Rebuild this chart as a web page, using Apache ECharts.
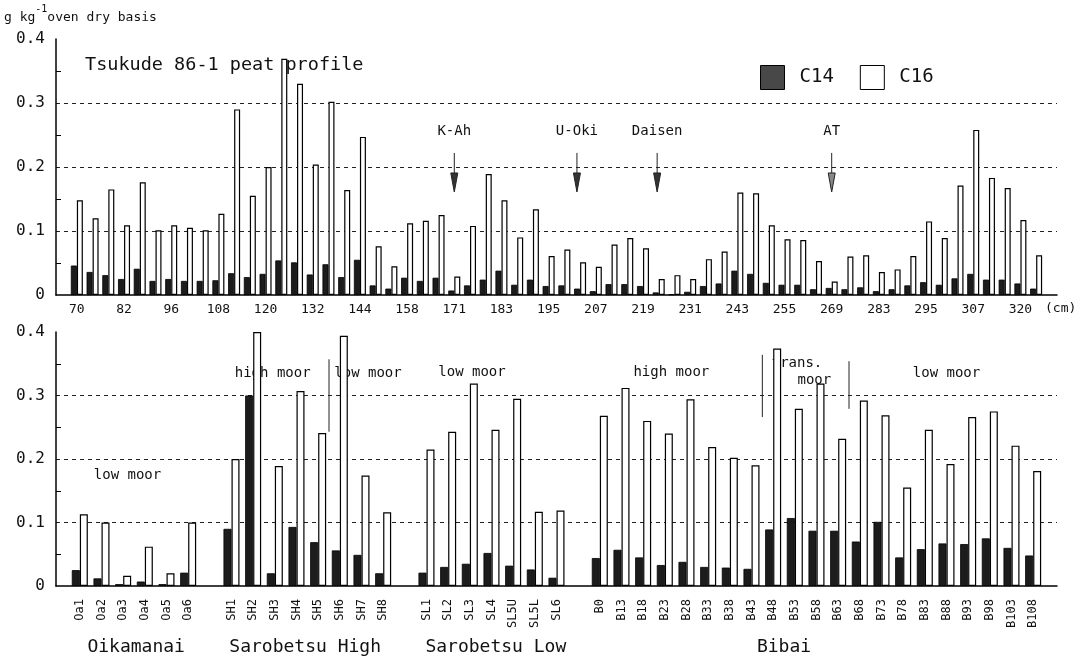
<!DOCTYPE html>
<html>
<head>
<meta charset="utf-8">
<script src="https://cdn.jsdelivr.net/npm/echarts@6/dist/echarts.min.js"></script>
<style>
html, body { margin: 0; background: #fff; }
#main { width: 1079px; height: 662px; }
</style>
</head>
<body>
<div id="main"></div>
<script>
const MONO = '"DejaVu Sans Mono", "Liberation Mono", monospace';

// Tsukude 86-1 peat profile (one tick label every third sample)
const depthTicks = ['70', '82', '96', '108', '120', '132', '144', '158', '171', '183', '195',
  '207', '219', '231', '243', '255', '269', '283', '295', '307', '320'];
const tsukudeC14 = [
  0.046, 0.036, 0.031, 0.025, 0.041, 0.022, 0.025, 0.022, 0.022, 0.023,
  0.034, 0.028, 0.033, 0.054, 0.051, 0.032, 0.048, 0.028, 0.055, 0.015,
  0.010, 0.027, 0.022, 0.027, 0.007, 0.015, 0.024, 0.038, 0.016, 0.024,
  0.014, 0.015, 0.010, 0.006, 0.017, 0.017, 0.014, 0.004, 0.001, 0.005,
  0.014, 0.018, 0.038, 0.033, 0.019, 0.016, 0.016, 0.009, 0.011, 0.009,
  0.012, 0.006, 0.009, 0.015, 0.020, 0.016, 0.026, 0.033, 0.024, 0.024,
  0.018, 0.010];
const tsukudeC16 = [
  0.148, 0.120, 0.165, 0.109, 0.176, 0.101, 0.109, 0.105, 0.101, 0.127,
  0.290, 0.155, 0.200, 0.369, 0.330, 0.204, 0.302, 0.164, 0.247, 0.076,
  0.045, 0.112, 0.116, 0.125, 0.029, 0.108, 0.189, 0.148, 0.090, 0.134,
  0.061, 0.071, 0.051, 0.044, 0.079, 0.089, 0.073, 0.025, 0.031, 0.025,
  0.056, 0.068, 0.160, 0.159, 0.109, 0.087, 0.086, 0.053, 0.021, 0.060,
  0.062, 0.036, 0.040, 0.061, 0.115, 0.089, 0.171, 0.258, 0.183, 0.167,
  0.117, 0.062];

// bottom panel, four sites
const oikamanaiSamples = ['Oa1', 'Oa2', 'Oa3', 'Oa4', 'Oa5', 'Oa6'];
const oikamanaiC14 = [0.025, 0.012, 0.003, 0.007, 0.003, 0.021];
const oikamanaiC16 = [0.113, 0.100, 0.016, 0.062, 0.020, 0.100];

const sarobetsuHighSamples = ['SH1', 'SH2', 'SH3', 'SH4', 'SH5', 'SH6', 'SH7', 'SH8'];
const sarobetsuHighC14 = [0.090, 0.300, 0.020, 0.093, 0.069, 0.056, 0.049, 0.020];
const sarobetsuHighC16 = [0.200, 0.400, 0.189, 0.307, 0.241, 0.394, 0.174, 0.116];

const sarobetsuLowSamples = ['SL1', 'SL2', 'SL3', 'SL4', 'SL5U', 'SL5L', 'SL6'];
const sarobetsuLowC14 = [0.021, 0.030, 0.035, 0.052, 0.032, 0.026, 0.013];
const sarobetsuLowC16 = [0.215, 0.243, 0.319, 0.246, 0.295, 0.117, 0.119];

const bibaiSamples = ['B0', 'B13', 'B18', 'B23', 'B28', 'B33', 'B38', 'B43', 'B48', 'B53', 'B58',
  'B63', 'B68', 'B73', 'B78', 'B83', 'B88', 'B93', 'B98', 'B103', 'B108'];
const bibaiC14 = [0.044, 0.057, 0.045, 0.033, 0.038, 0.030, 0.029, 0.027, 0.089, 0.107, 0.087,
  0.087, 0.070, 0.101, 0.045, 0.058, 0.067, 0.066, 0.075, 0.060, 0.048];
const bibaiC16 = [0.268, 0.312, 0.260, 0.240, 0.294, 0.219, 0.202, 0.190, 0.374, 0.279, 0.319,
  0.232, 0.292, 0.269, 0.155, 0.246, 0.192, 0.266, 0.275, 0.221, 0.181];

const siteNames = ['Oikamanai', 'Sarobetsu High', 'Sarobetsu Low', 'Bibai'];

// top categories: a depth label on every third sample
const topCategories = tsukudeC14.map((v, i) => (i % 3 === 0 ? depthTicks[i / 3] : ''));

// bottom categories with an empty slot between sites
const bottomCategories = [];
const bottomC14 = [];
const bottomC16 = [];
const siteSlots = [];
[[oikamanaiSamples, oikamanaiC14, oikamanaiC16],
 [sarobetsuHighSamples, sarobetsuHighC14, sarobetsuHighC16],
 [sarobetsuLowSamples, sarobetsuLowC14, sarobetsuLowC16],
 [bibaiSamples, bibaiC14, bibaiC16]].forEach(([names, c14, c16], g) => {
  if (g > 0) {
    bottomCategories.push(' '.repeat(g));
    bottomC14.push(null);
    bottomC16.push(null);
  }
  siteSlots.push([bottomCategories.length, bottomCategories.length + names.length - 1]);
  names.forEach((n, i) => {
    bottomCategories.push(n);
    bottomC14.push(c14[i]);
    bottomC16.push(c16[i]);
  });
});

const chart = echarts.init(document.getElementById('main'));

function frameX(gridIndex) {
  return {
    gridIndex, type: 'value', min: 0, max: 1,
    axisLine: { show: true, lineStyle: { color: '#000', width: 1.5 } },
    axisTick: { show: false }, axisLabel: { show: false }, splitLine: { show: false }
  };
}
function frameY(gridIndex) {
  return {
    gridIndex, type: 'value', min: 0, max: 0.4, interval: 0.1,
    axisLine: { show: true, lineStyle: { color: '#000', width: 1.5 } },
    axisTick: { show: false, inside: true },
    minorTick: { show: true, splitNumber: 2, length: 5, lineStyle: { color: '#000', width: 1 } },
    axisLabel: {
      fontFamily: MONO, fontSize: 16, color: '#111', margin: 11,
      formatter: v => (v === 0 ? '0' : v.toFixed(1))
    },
    splitLine: {
      show: true, showMinLine: false, showMaxLine: false,
      lineStyle: { color: '#222', type: [4, 4], width: 1 }
    }
  };
}
function barY(gridIndex) {
  return { gridIndex, type: 'value', min: 0, max: 0.4, show: false, splitLine: { show: false } };
}

const c14Style = { color: '#1c1c1c', borderColor: '#000', borderWidth: 0.8 };
const c16Style = { color: '#fff', borderColor: '#000', borderWidth: 1.2 };

const option = {
  backgroundColor: '#fff',
  animation: false,
  title: {
    text: 'Tsukude 86-1 peat profile',
    left: 80, top: 51,
    textStyle: { fontFamily: MONO, fontSize: 18.5, fontWeight: 'normal', color: '#111' }
  },
  legend: {
    left: 755, top: 60,
    icon: 'rect',
    itemWidth: 24, itemHeight: 24, itemGap: 26,
    data: [
      { name: 'C14', itemStyle: { color: '#484848', borderColor: '#000', borderWidth: 1 } },
      { name: 'C16', itemStyle: { color: '#fff', borderColor: '#000', borderWidth: 1 } }
    ],
    textStyle: { fontFamily: MONO, fontSize: 19, color: '#111', padding: [0, 0, 0, 10] }
  },
  grid: [
    { left: 56, right: 22, top: 39, bottom: 367, outerBoundsMode: 'none' },
    { left: 69, right: 35, top: 39, bottom: 367, outerBoundsMode: 'none' },
    { left: 56, right: 22, top: 332, bottom: 76, outerBoundsMode: 'none' },
    { left: 69, right: 35, top: 332, bottom: 76, outerBoundsMode: 'none' }
  ],
  xAxis: [
    frameX(0),
    {
      gridIndex: 1, type: 'category', data: topCategories,
      axisLine: { show: false }, axisTick: { show: false },
      axisLabel: { interval: 0, fontFamily: MONO, fontSize: 13, color: '#111', margin: 8 },
      name: '(cm)', nameLocation: 'end', nameGap: 1,
      nameTextStyle: { fontFamily: MONO, fontSize: 13, color: '#111', verticalAlign: 'top', padding: [7, 0, 0, 0] }
    },
    frameX(2),
    {
      gridIndex: 3, type: 'category', data: bottomCategories,
      axisLine: { show: false }, axisTick: { show: false },
      axisLabel: { interval: 0, rotate: 90, fontFamily: MONO, fontSize: 12, color: '#111', margin: 13 }
    }
  ],
  yAxis: [frameY(0), barY(1), frameY(2), barY(3)],
  series: [
    { name: 'C14', type: 'bar', xAxisIndex: 1, yAxisIndex: 1, data: tsukudeC14,
      barWidth: 6, barGap: '0%', itemStyle: c14Style },
    { name: 'C16', type: 'bar', xAxisIndex: 1, yAxisIndex: 1, data: tsukudeC16,
      barWidth: 6, barGap: '0%', itemStyle: c16Style },
    { name: 'C14', type: 'bar', xAxisIndex: 3, yAxisIndex: 3, data: bottomC14,
      barWidth: 8, barGap: '0%', itemStyle: c14Style },
    { name: 'C16', type: 'bar', xAxisIndex: 3, yAxisIndex: 3, data: bottomC16,
      barWidth: 8, barGap: '0%', itemStyle: c16Style }
  ]
};
chart.setOption(option);

// annotations placed through the chart's own scales (slot may be fractional)
function toPx(seriesIndex, slot, val) {
  const a = chart.convertToPixel({ seriesIndex }, [0, val]);
  const b = chart.convertToPixel({ seriesIndex }, [1, val]);
  return [a[0] + slot * (b[0] - a[0]), a[1]];
}
function label(p, text, size, extra) {
  return Object.assign({
    type: 'text', x: p[0], y: p[1], silent: true,
    style: { text, fill: '#111', font: size + 'px ' + MONO, align: 'center', verticalAlign: 'middle' }
  }, extra || {});
}

const graphic = [];

// unit label
graphic.push({
  type: 'text', left: 4, top: 4, silent: true,
  style: {
    text: '{a|g kg}{s|-1}{a|oven dry basis}',
    rich: {
      a: { fontFamily: MONO, fontSize: 13, fill: '#111', verticalAlign: 'bottom', lineHeight: 20 },
      s: { fontFamily: MONO, fontSize: 10, fill: '#111', verticalAlign: 'top', lineHeight: 20, padding: [0, 0, 8, 0] }
    }
  }
});

// tephra arrows on the peat profile
[['K-Ah', 24, '#333'], ['U-Oki', 31.8, '#333'], ['Daisen', 36.9, '#333'], ['AT', 48, '#888']].forEach(([name, slot, fill]) => {
  const top = toPx(0, slot, 0.222);
  const tip = toPx(0, slot, 0.161);
  const headTop = tip[1] - 19;
  graphic.push({ type: 'line', silent: true, shape: { x1: top[0], y1: top[1], x2: top[0], y2: headTop },
    style: { stroke: '#222', lineWidth: 1 } });
  graphic.push({ type: 'polygon', silent: true,
    shape: { points: [[tip[0] - 3.5, headTop], [tip[0] + 3.5, headTop], [tip[0], tip[1]]] },
    style: { fill, stroke: '#222', lineWidth: 1 } });
  graphic.push(label(toPx(0, slot, 0.255), name, 14));
});

// moor type notes on the lower panel
[['low moor', 2.2, 0.175], ['high moor', 8.9, 0.335], ['low moor', 13.3, 0.335],
 ['low moor', 18.1, 0.336], ['high moor', 27.3, 0.336], ['trans.', 33.1, 0.351],
 ['moor', 33.9, 0.324], ['low moor', 40, 0.335]].forEach(([t, slot, v]) => {
  graphic.push(label(toPx(2, slot, v), t, 14));
});
[[11.5, 0.357, 0.243], [31.5, 0.364, 0.266], [35.5, 0.354, 0.279]].forEach(([slot, v1, v2]) => {
  const a = toPx(2, slot, v1);
  const b = toPx(2, slot, v2);
  graphic.push({ type: 'line', silent: true, shape: { x1: a[0], y1: a[1], x2: b[0], y2: b[1] },
    style: { stroke: '#222', lineWidth: 1 } });
});

// site names under the lower axis
const siteShift = [0.1, -0.1, 0.2, -1.5];
siteNames.forEach((n, i) => {
  const mid = (siteSlots[i][0] + siteSlots[i][1]) / 2 + siteShift[i];
  const p = toPx(2, mid, 0);
  graphic.push(label([p[0], p[1] + 61], n, 18));
});

chart.setOption({ graphic });
</script>
</body>
</html>
